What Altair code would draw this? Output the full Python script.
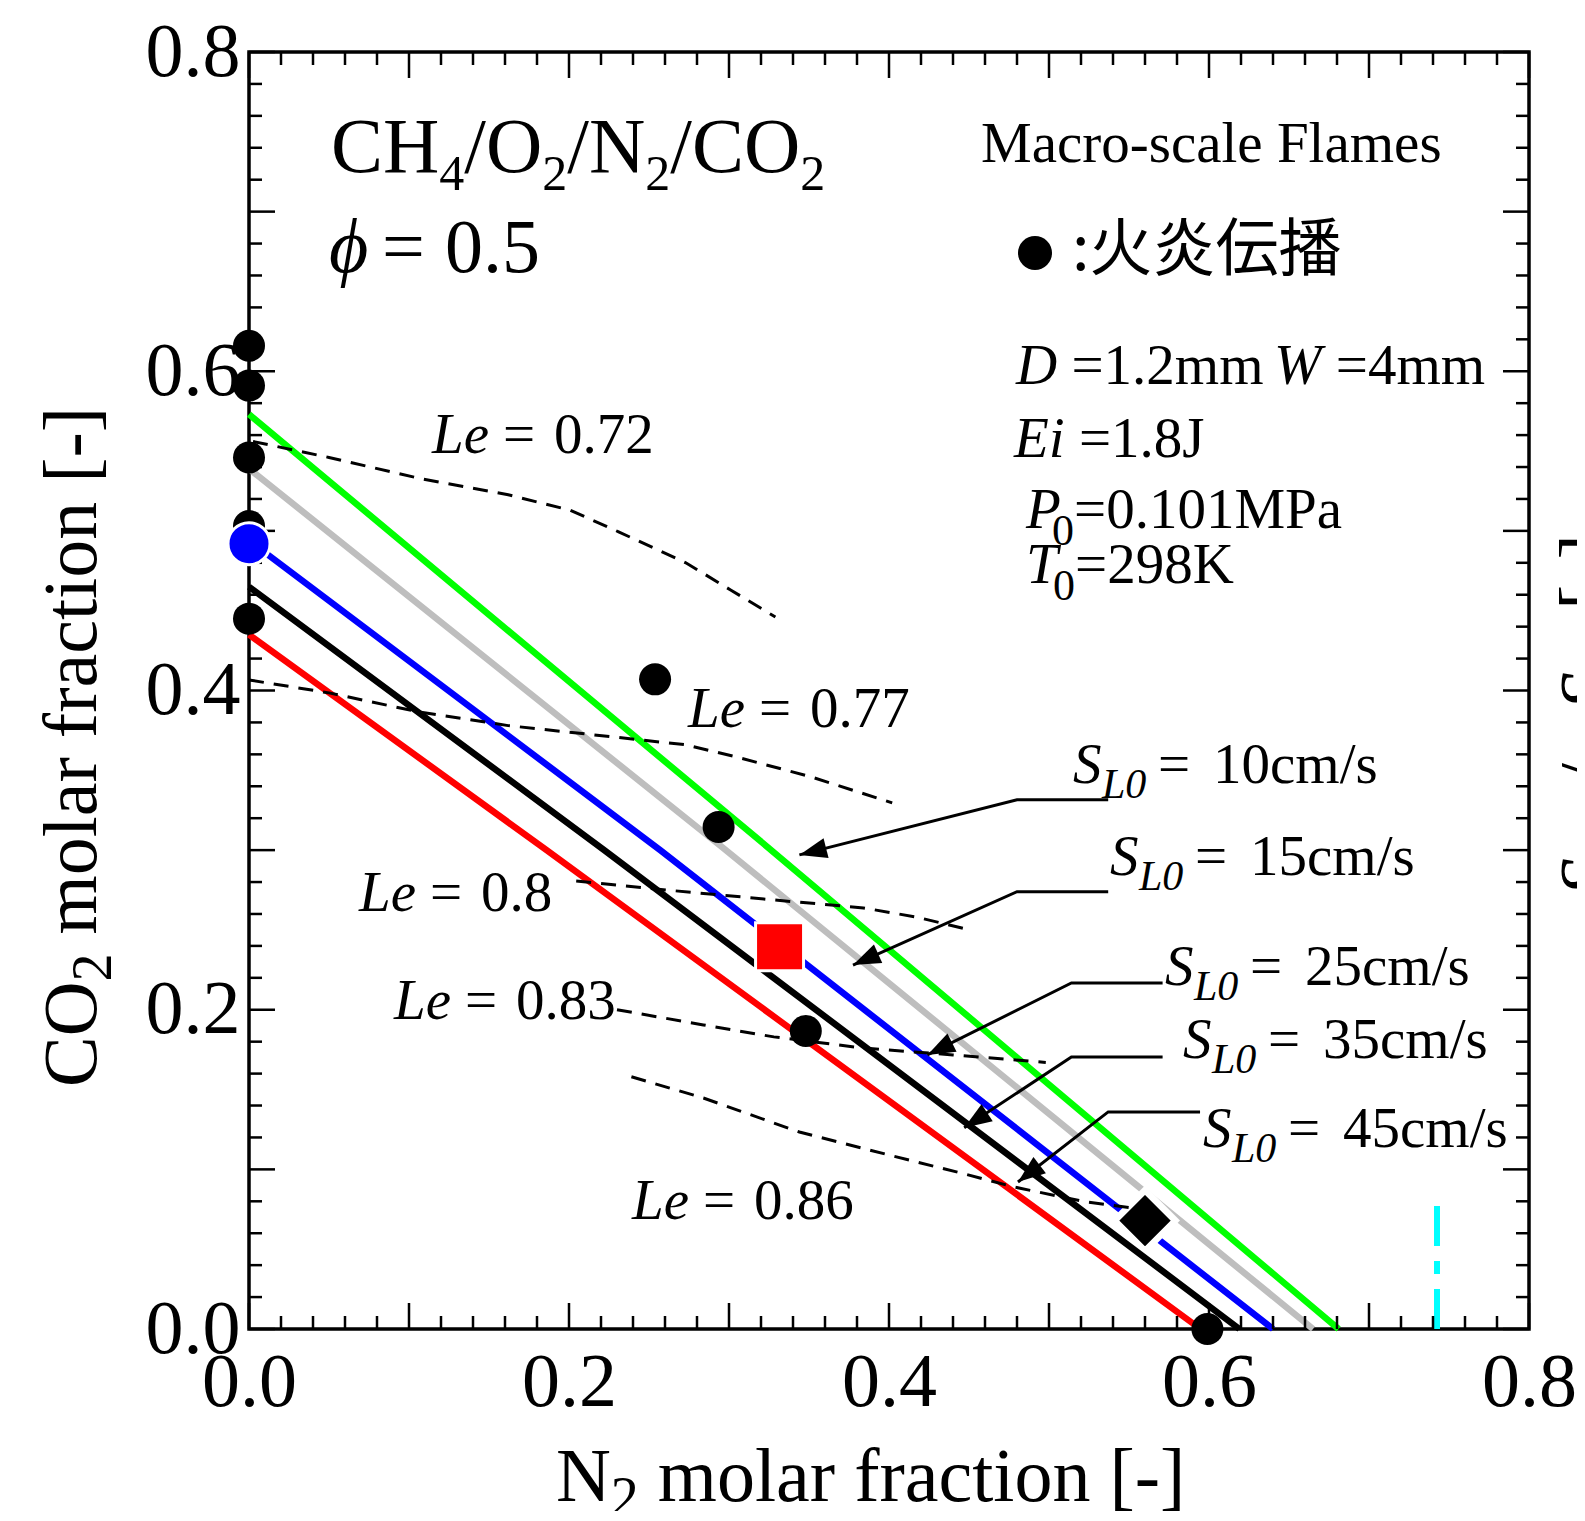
import math
import altair as alt
import pandas as pd

# ---------------- values ----------------
green_x = [0.0, 0.324, 0.681]
green_y = [0.573, 0.302, 0.0]
grey_x = [0.0, 0.2956, 0.665]
grey_y = [0.539, 0.302, 0.0]
blue_x = [0.0, 0.257, 0.640]
blue_y = [0.494, 0.300, 0.0]
black_x = [0.0, 0.222, 0.619]
black_y = [0.465, 0.300, 0.0]
red_x = [0.0, 0.186, 0.5947]
red_y = [0.435, 0.300, 0.0]

le_names = ["0.72", "0.77", "0.8", "0.83", "0.86"]
le_x = [
    [0.0025, 0.050, 0.106, 0.162, 0.2006, 0.231, 0.273, 0.301, 0.329],
    [0.0, 0.05, 0.106, 0.162, 0.2175, 0.273, 0.306, 0.351, 0.402],
    [0.2045, 0.261, 0.328, 0.384, 0.4175, 0.4507],
    [0.23, 0.284, 0.328, 0.384, 0.44, 0.498],
    [0.239, 0.284, 0.344, 0.40, 0.445, 0.478, 0.523, 0.552],
]
le_y = [
    [0.556, 0.546, 0.533, 0.5226, 0.513, 0.4994, 0.480, 0.463, 0.446],
    [0.4066, 0.3985, 0.3866, 0.378, 0.372, 0.366, 0.358, 0.346, 0.3296],
    [0.2806, 0.275, 0.2688, 0.2638, 0.258, 0.250],
    [0.200, 0.1905, 0.183, 0.176, 0.1717, 0.167],
    [0.158, 0.1447, 0.1234, 0.109, 0.0977, 0.089, 0.0796, 0.0758],
]

dot_x = [0.0, 0.0, 0.0, 0.0, 0.0, 0.2538, 0.2935, 0.348, 0.599]
dot_y = [0.616, 0.591, 0.546, 0.503, 0.445, 0.407, 0.3145, 0.1867, 0.0]
bluept_x = [0.0]
bluept_y = [0.492]
square_x = [0.3316]
square_y = [0.2395]
diamond_x = [0.560]
diamond_y = [0.0679]
cyan_x = [0.7425, 0.7425]
cyan_y = [0.0, 0.079]

sl_labels = ["10cm/s", "15cm/s", "25cm/s", "35cm/s", "45cm/s"]
arrow_x = [[0.537, 0.48, 0.344], [0.537, 0.48, 0.3775], [0.571, 0.514, 0.424],
           [0.571, 0.514, 0.447], [0.5944, 0.537, 0.4806]]
arrow_y = [[0.3315, 0.3315, 0.297], [0.274, 0.274, 0.228], [0.2168, 0.2168, 0.1717],
           [0.1704, 0.1704, 0.126], [0.136, 0.136, 0.0921]]

tick_labels = [0.0, 0.2, 0.4, 0.6, 0.8]

# ---------------- layout ----------------
W, H = 1280, 1277
XMAX, YMAX = 0.8, 0.8
LEFT, TOP = 249, 52
KX = W / XMAX
KY = H / YMAX
SERIF = "Liberation Serif, DejaVu Serif, serif"
CJK = "Noto Sans CJK JP"


def to_data(px, py):
    return (px - LEFT) / KX, (TOP + H - py) / KY


UP = {' ': 250, '-': 333, '.': 250, '/': 278, ':': 278, '=': 564, '[': 333, ']': 333,
      'C': 667, 'D': 722, 'E': 611, 'F': 556, 'H': 722, 'J': 389, 'K': 722, 'M': 889,
      'N': 722, 'O': 722, 'P': 556, 'T': 611, 'W': 944, 'a': 444, 'c': 444, 'e': 444,
      'f': 333, 'i': 278, 'l': 278, 'm': 778, 'n': 500, 'o': 500, 'r': 333, 's': 389,
      't': 278}
IT = {'L': 556, 'e': 444, 'S': 500, 'D': 722, 'W': 833, 'E': 611, 'i': 278, 'P': 611,
      'T': 556, ' ': 250}


def tw(text, style, size):
    table = IT if style == "it" else UP
    return sum(table.get(c, 500) for c in text) / 1000 * size


segs = []


def compose(X0, Y0, parts, angle=0):
    cur = 0.0
    for text, style, size, dy, off in parts:
        if off is not None:
            cur = off
        lead = len(text) - len(text.lstrip(" "))
        cur += lead * 0.25 * size
        text = text.strip(" ")
        if angle == 0:
            px, py = X0 + cur, Y0 + dy
        else:
            px, py = X0 + dy, Y0 - cur
        xd, yd = to_data(px, py)
        segs.append(dict(x=xd, y=yd, text=text, size=size, angle=angle, style=style))
        cur += tw(text, style, size)


compose(331, 172, [("CH", "up", 78, 0, None), ("4", "up", 50, 18, None),
                   ("/O", "up", 78, 0, None), ("2", "up", 50, 18, None),
                   ("/N", "up", 78, 0, None), ("2", "up", 50, 18, None),
                   ("/CO", "up", 78, 0, None), ("2", "up", 50, 18, None)])
compose(329, 272, [("ϕ", "it", 76, 0, 0), ("=", "up", 76, 0, 53), ("0.5", "up", 76, 0, 116)])
compose(981, 162, [("Macro-scale Flames", "up", 57, 0, None)])
compose(1072, 270, [(":火炎伝播", "cjk", 63, 0, None)])
compose(1016, 384, [("D", "it", 57, 0, 0), (" =1.2mm", "up", 57, 0, None),
                    ("W", "it", 57, 0, 258), (" =4mm", "up", 57, 0, None)])
compose(1014, 457, [("Ei", "it", 57, 0, None), (" =1.8J", "up", 57, 0, None)])
compose(1026, 528, [("P", "it", 57, 0, 0), ("0", "up", 44, 17, 26), ("=0.101MPa", "up", 57, 0, 48)])
compose(1026, 583, [("T", "it", 57, 0, 0), ("0", "up", 44, 17, 27), ("=298K", "up", 57, 0, 49)])

le_pos = [(432, 453), (688, 727), (359, 911), (394, 1019), (632, 1219)]
for name, (px, py) in zip(le_names, le_pos):
    compose(px, py, [("Le", "it", 57, 0, 0), ("=", "up", 57, 0, 71), (name, "up", 57, 0, 122)])

sl_pos = [(1073, 783), (1110, 875), (1165, 985), (1183, 1058), (1203, 1147)]
for lab, (px, py) in zip(sl_labels, sl_pos):
    compose(px, py, [("S", "it", 57, 0, 0), ("L0", "it", 42, 15, 29),
                     ("=", "up", 57, 0, 85), (lab, "up", 57, 0, 140)])

compose(556, 1501, [("N", "up", 76, 0, 0), ("2", "up", 56, 15, None),
                    (" molar fraction [-]", "up", 76, 0, None)])
compose(96, 1087, [("CO", "up", 76, 0, 0), ("2", "up", 56, 15, None),
                   (" molar fraction [-]", "up", 76, 0, None)], angle=270)
compose(1612, 896, [("S", "it", 76, 0, 0), ("L", "it", 56, 15, 38), ("/", "up", 76, 0, 112),
                    ("S", "it", 76, 0, 186), ("L0", "it", 56, 15, 224), ("[-]", "up", 76, 0, 286)],
        angle=270)
text_df = pd.DataFrame(segs)

# ---------------- scales / axes ----------------
xs = alt.Scale(domain=[0, XMAX], nice=False, zero=False)
ys = alt.Scale(domain=[0, YMAX], nice=False, zero=False)
xaxis = alt.Axis(values=tick_labels, format=".1f", title=None, ticks=False, tickSize=0,
                 domain=False, grid=False, labelFont=SERIF, labelFontSize=76,
                 labelColor="black", labelPadding=16, labelFlush=False,
                 labelOverlap=False, labelBound=False)
yaxis = alt.Axis(values=tick_labels, format=".1f", title=None, ticks=False, tickSize=0,
                 domain=False, grid=False, labelFont=SERIF, labelFontSize=76,
                 labelColor="black", labelPadding=9, labelFlush=False,
                 labelOverlap=False, labelBound=False)
X = alt.X("x:Q", scale=xs, axis=xaxis)
Y = alt.Y("y:Q", scale=ys, axis=yaxis)


def line_layer(lx, ly, color, width, dash=None):
    df = pd.DataFrame({"x": lx, "y": ly, "i": list(range(len(lx)))})
    kw = dict(color=color, strokeWidth=width)
    if dash is not None:
        kw["strokeDash"] = dash
    return alt.Chart(df).mark_line(**kw).encode(X, Y, order="i:Q")


def pt_layer(px, py, **kw):
    df = pd.DataFrame({"x": px, "y": py})
    return alt.Chart(df).mark_point(opacity=1, **kw).encode(X, Y)


LW = 6.5
layers = []
layers.append(line_layer(red_x, red_y, "#FF0000", LW))
layers.append(line_layer(blue_x, blue_y, "#0000FF", LW))
layers.append(line_layer(grey_x, grey_y, "#BEBEBE", LW))
layers.append(line_layer(green_x, green_y, "#00FF00", LW))
layers.append(pt_layer(diamond_x, diamond_y, shape="diamond", filled=True, fill="white",
                       strokeWidth=0, size=4900))
layers.append(pt_layer(diamond_x, diamond_y, shape="diamond", filled=True, fill="black",
                       stroke="white", strokeWidth=2, size=2916))
layers.append(line_layer(black_x, black_y, "black", LW))
layers.append(line_layer(cyan_x, cyan_y, "#00FFFF", 6, dash=[40, 15, 13, 15]))

# dashed Lewis-number contours
rows = []
for name, lx, ly in zip(le_names, le_x, le_y):
    for i, (a, b) in enumerate(zip(lx, ly)):
        rows.append(dict(x=a, y=b, grp=name, i=i))
le_df = pd.DataFrame(rows)
layers.append(alt.Chart(le_df).mark_line(color="black", strokeWidth=3, strokeDash=[15, 10])
              .encode(X, Y, detail="grp:N", order="i:Q"))

# arrows
rows, heads = [], []
for lab, ax, ay in zip(sl_labels, arrow_x, arrow_y):
    for i, (a, b) in enumerate(zip(ax, ay)):
        rows.append(dict(x=a, y=b, grp=lab, i=i))
    dx = (ax[2] - ax[1]) * KX
    dy = -(ay[2] - ay[1]) * KY
    ang = math.degrees(math.atan2(dx, -dy)) % 360
    heads.append(dict(x=ax[2], y=ay[2], ang=ang))
arr_df = pd.DataFrame(rows)
head_df = pd.DataFrame(heads)
layers.append(alt.Chart(arr_df).mark_line(color="black", strokeWidth=3)
              .encode(X, Y, detail="grp:N", order="i:Q"))
layers.append(alt.Chart(head_df).mark_point(shape="M0,0L-0.37,1L0.37,1Z", filled=True,
                                            fill="black", strokeWidth=0, opacity=1, size=3025)
              .encode(X, Y, angle=alt.Angle("ang:Q", scale=None)))

# inward ticks on all four sides
tick_rows = []
for i in range(41):
    v = round(i * 0.02, 4)
    L = 26 if i % 5 == 0 else 13
    tick_rows += [
        dict(x=v, y=0.0, x2=v, y2=L / KY),
        dict(x=v, y=YMAX, x2=v, y2=YMAX - L / KY),
        dict(x=0.0, y=v, x2=L / KX, y2=v),
        dict(x=XMAX, y=v, x2=XMAX - L / KX, y2=v),
    ]
tick_df = pd.DataFrame(tick_rows)
layers.append(alt.Chart(tick_df).mark_rule(color="black", strokeWidth=2.5)
              .encode(X, Y, x2=alt.X2("x2:Q"), y2=alt.Y2("y2:Q")))

# markers (Vega symbol diameter = sqrt(size))
layers.append(pt_layer(dot_x, dot_y, shape="circle", filled=True, fill="black",
                       strokeWidth=0, size=1024))
layers.append(pt_layer(bluept_x, bluept_y, shape="circle", filled=True, fill="#0000FF",
                       stroke="white", strokeWidth=3, size=1764))
layers.append(pt_layer(square_x, square_y, shape="square", filled=True, fill="#FF0000",
                       stroke="white", strokeWidth=3, size=2304))
lx, ly = to_data(1035, 253)
layers.append(pt_layer([lx], [ly], shape="circle", filled=True, fill="black",
                       strokeWidth=0, size=1156))

# text
styles = {"up": dict(font=SERIF), "it": dict(font=SERIF, fontStyle="italic"),
          "cjk": dict(font=CJK)}
for st, kw in styles.items():
    sub = text_df[text_df["style"] == st]
    layers.append(alt.Chart(sub).mark_text(align="left", baseline="alphabetic",
                                           color="black", **kw)
                  .encode(X, Y, text="text:N", size=alt.Size("size:Q", scale=None),
                          angle=alt.Angle("angle:Q", scale=None)))

chart = (alt.layer(*layers)
         .properties(width=W, height=H,
                     padding={"left": 241, "top": 44, "right": 48, "bottom": 182},
                     autosize=alt.AutoSizeParams(type="none"),
                     background="white")
         .configure_view(stroke="black", strokeWidth=3.5))

chart.save("out.html", embed_options={"renderer": "svg", "actions": False})
